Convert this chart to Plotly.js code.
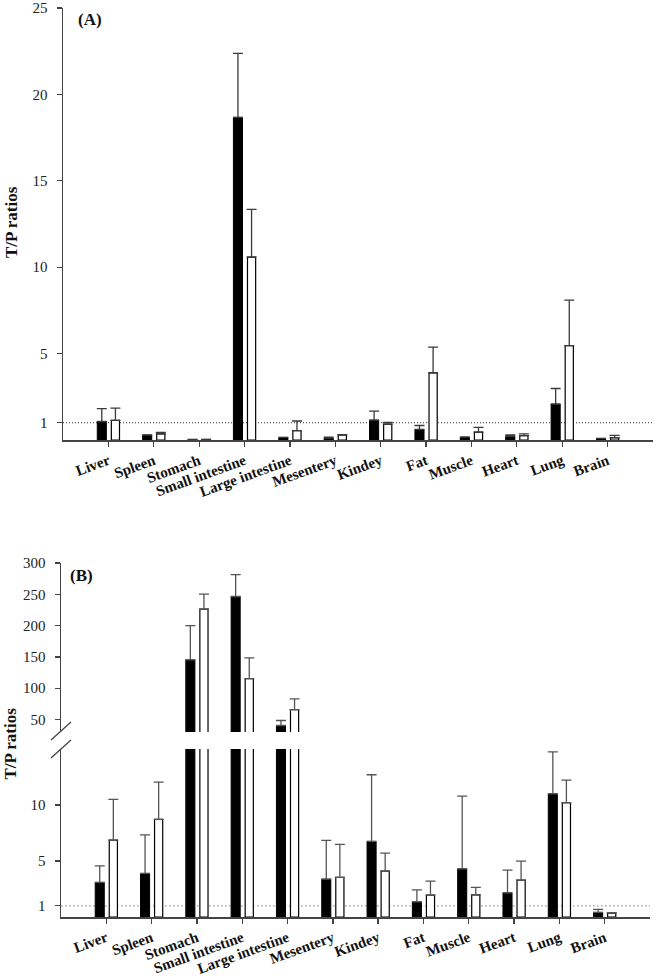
<!DOCTYPE html>
<html>
<head>
<meta charset="utf-8">
<script src="https://cdn.plot.ly/plotly-3.0.1.min.js"></script>
<style>html,body{margin:0;padding:0;background:#fff;}#chart{width:656px;height:978px;}</style>
</head>
<body>
<div id="chart"></div>
<script>
// Categories (tick labels)
const organs = ["Liver","Spleen","Stomach","Small intestine","Large intestine","Mesentery","Kindey","Fat","Muscle","Heart","Lung","Brain"];

// Panel A: T/P ratios (black and white bars) with upper error (SD)
const aBlack    = [1.07, 0.29, 0.03, 18.67, 0.15, 0.11, 1.15, 0.61, 0.17, 0.21, 2.08, 0.09];
const aBlackErr = [0.75, 0.00, 0.00, 3.70, 0.00, 0.06, 0.52, 0.23, 0.00, 0.08, 0.90, 0.00];
const aWhite    = [1.13, 0.35, 0.03, 10.58, 0.54, 0.29, 0.92, 3.88, 0.46, 0.25, 5.46, 0.13];
const aWhiteErr = [0.72, 0.09, 0.00, 2.77, 0.56, 0.02, 0.10, 1.50, 0.27, 0.10, 2.64, 0.14];

// Panel B
const bBlack    = [3.09, 3.89, 145.4, 246.5, 40.4, 3.38, 6.75, 1.36, 4.30, 2.16, 11.0, 0.41];
const bBlackErr = [1.48, 3.45, 54.6, 34.8, 8.0, 3.46, 5.95, 1.07, 6.50, 2.03, 3.75, 0.27];
const bWhite    = [6.87, 8.71, 226.4, 115.3, 65.6, 3.53, 4.10, 1.96, 1.98, 3.30, 10.2, 0.35];
const bWhiteErr = [3.63, 3.33, 24.0, 33.1, 17.2, 2.95, 1.60, 1.24, 0.66, 1.69, 2.02, 0.03];

// Axis tick values
const aTicks = [1, 5, 10, 15, 20, 25];
const bLowTicks = [1, 5, 10];
const bHighTicks = [50, 100, 150, 200, 250, 300];

const W = 656, H = 978;
const px = v => v / W;
const py = v => 1 - v / H;

const serif = "Liberation Serif";
const errCol = "#3a3a3a";

function barPair(yb, ybe, yw, ywe, xa, ya, ecol) {
  return [
    {type: "bar", x: organs, y: yb, xaxis: xa, yaxis: ya, offset: -0.245, width: 0.2,
     marker: {color: "#000", line: {color: "#000", width: 1}},
     error_y: {type: "data", array: ybe, arrayminus: ybe.map(() => 0), symmetric: false,
               color: ecol, thickness: 1.3, width: 5},
     showlegend: false, hoverinfo: "skip"},
    {type: "bar", x: organs, y: yw, xaxis: xa, yaxis: ya, offset: 0.065, width: 0.18,
     marker: {color: "#fff", line: {color: "#000", width: 1.2}},
     error_y: {type: "data", array: ywe, arrayminus: ywe.map(() => 0), symmetric: false,
               color: ecol, thickness: 1.3, width: 5},
     showlegend: false, hoverinfo: "skip"}
  ];
}

const data = [
  ...barPair(aBlack, aBlackErr, aWhite, aWhiteErr, "x", "y", errCol),
  ...barPair(bBlack, bBlackErr, bWhite, bWhiteErr, "x2", "y2", "#555"),
  ...barPair(bBlack, bBlackErr, bWhite, bWhiteErr, "x3", "y3", "#555")
];

const tickFont = {family: serif, size: 15, color: "#222"};
const xTickFont = {family: serif, size: 15, color: "#111", weight: "bold"};

const xCommon = {
  type: "category", range: [-1, 12], showgrid: false, zeroline: false,
  showline: true, linecolor: "#444", linewidth: 1.5,
  ticks: "outside", ticklen: 5, tickcolor: "#444", tickwidth: 1.3,
  tickangle: -20, tickfont: xTickFont, automargin: false, fixedrange: true
};
const yCommon = {
  showgrid: false, zeroline: false, showline: true, linecolor: "#444", linewidth: 1.5,
  ticks: "outside", ticklen: 5, tickcolor: "#444", tickwidth: 1.3,
  tickfont: tickFont, automargin: false, tickmode: "array", fixedrange: true,
  ticklabelstandoff: 6
};

const layout = {
  width: W, height: H,
  margin: {l: 0, r: 0, t: 0, b: 0},
  paper_bgcolor: "#fff", plot_bgcolor: "rgba(0,0,0,0)",
  barmode: "overlay",
  showlegend: false,
  xaxis: Object.assign({}, xCommon, {domain: [px(63), px(653)], anchor: "y"}),
  yaxis: Object.assign({}, yCommon, {domain: [py(440), py(8)], anchor: "x", range: [0, 25],
          tickvals: aTicks, ticktext: aTicks.map(String)}),
  xaxis2: Object.assign({}, xCommon, {domain: [px(61), px(650)], anchor: "y2"}),
  yaxis2: Object.assign({}, yCommon, {domain: [py(917), py(749)], anchor: "x2", range: [0, 15],
          tickvals: bLowTicks, ticktext: bLowTicks.map(String)}),
  xaxis3: Object.assign({}, xCommon, {domain: [px(61), px(650)], anchor: "y3",
          showline: false, ticks: "", showticklabels: false}),
  yaxis3: Object.assign({}, yCommon, {domain: [py(732), py(563)], anchor: "x3", range: [30, 300],
          tickvals: bHighTicks, ticktext: bHighTicks.map(String)}),
  shapes: [
    {type: "line", xref: "x domain", yref: "y", x0: 0, x1: 1, y0: 1, y1: 1,
     line: {color: "#333", width: 1, dash: "1px,2px"}, layer: "below"},
    {type: "line", xref: "x2 domain", yref: "y2", x0: 0, x1: 1, y0: 1, y1: 1,
     line: {color: "#999", width: 1.3, dash: "1.5px,2.5px"}, layer: "below"},
    {type: "line", xref: "paper", yref: "paper", x0: px(51), y0: py(740), x1: px(71), y1: py(722),
     line: {color: "#444", width: 1.3}},
    {type: "line", xref: "paper", yref: "paper", x0: px(51), y0: py(758), x1: px(71), y1: py(740),
     line: {color: "#444", width: 1.3}}
  ],
  annotations: [
    {text: "(A)", xref: "paper", yref: "paper", x: px(90), y: py(20), showarrow: false,
     xanchor: "center", yanchor: "middle", font: {family: serif, size: 17, color: "#111", weight: "bold"}},
    {text: "(B)", xref: "paper", yref: "paper", x: px(81.5), y: py(575), showarrow: false,
     xanchor: "center", yanchor: "middle", font: {family: serif, size: 17, color: "#111", weight: "bold"}},
    {text: "T/P ratios", xref: "paper", yref: "paper", x: px(11), y: py(222), showarrow: false,
     textangle: -90, xanchor: "center", yanchor: "middle",
     font: {family: serif, size: 17, color: "#111", weight: "bold"}},
    {text: "T/P ratios", xref: "paper", yref: "paper", x: px(9.5), y: py(744), showarrow: false,
     textangle: -90, xanchor: "center", yanchor: "middle",
     font: {family: serif, size: 17, color: "#111", weight: "bold"}}
  ]
};

Plotly.newPlot("chart", data, layout, {staticPlot: true, displayModeBar: false});
</script>
</body>
</html>
